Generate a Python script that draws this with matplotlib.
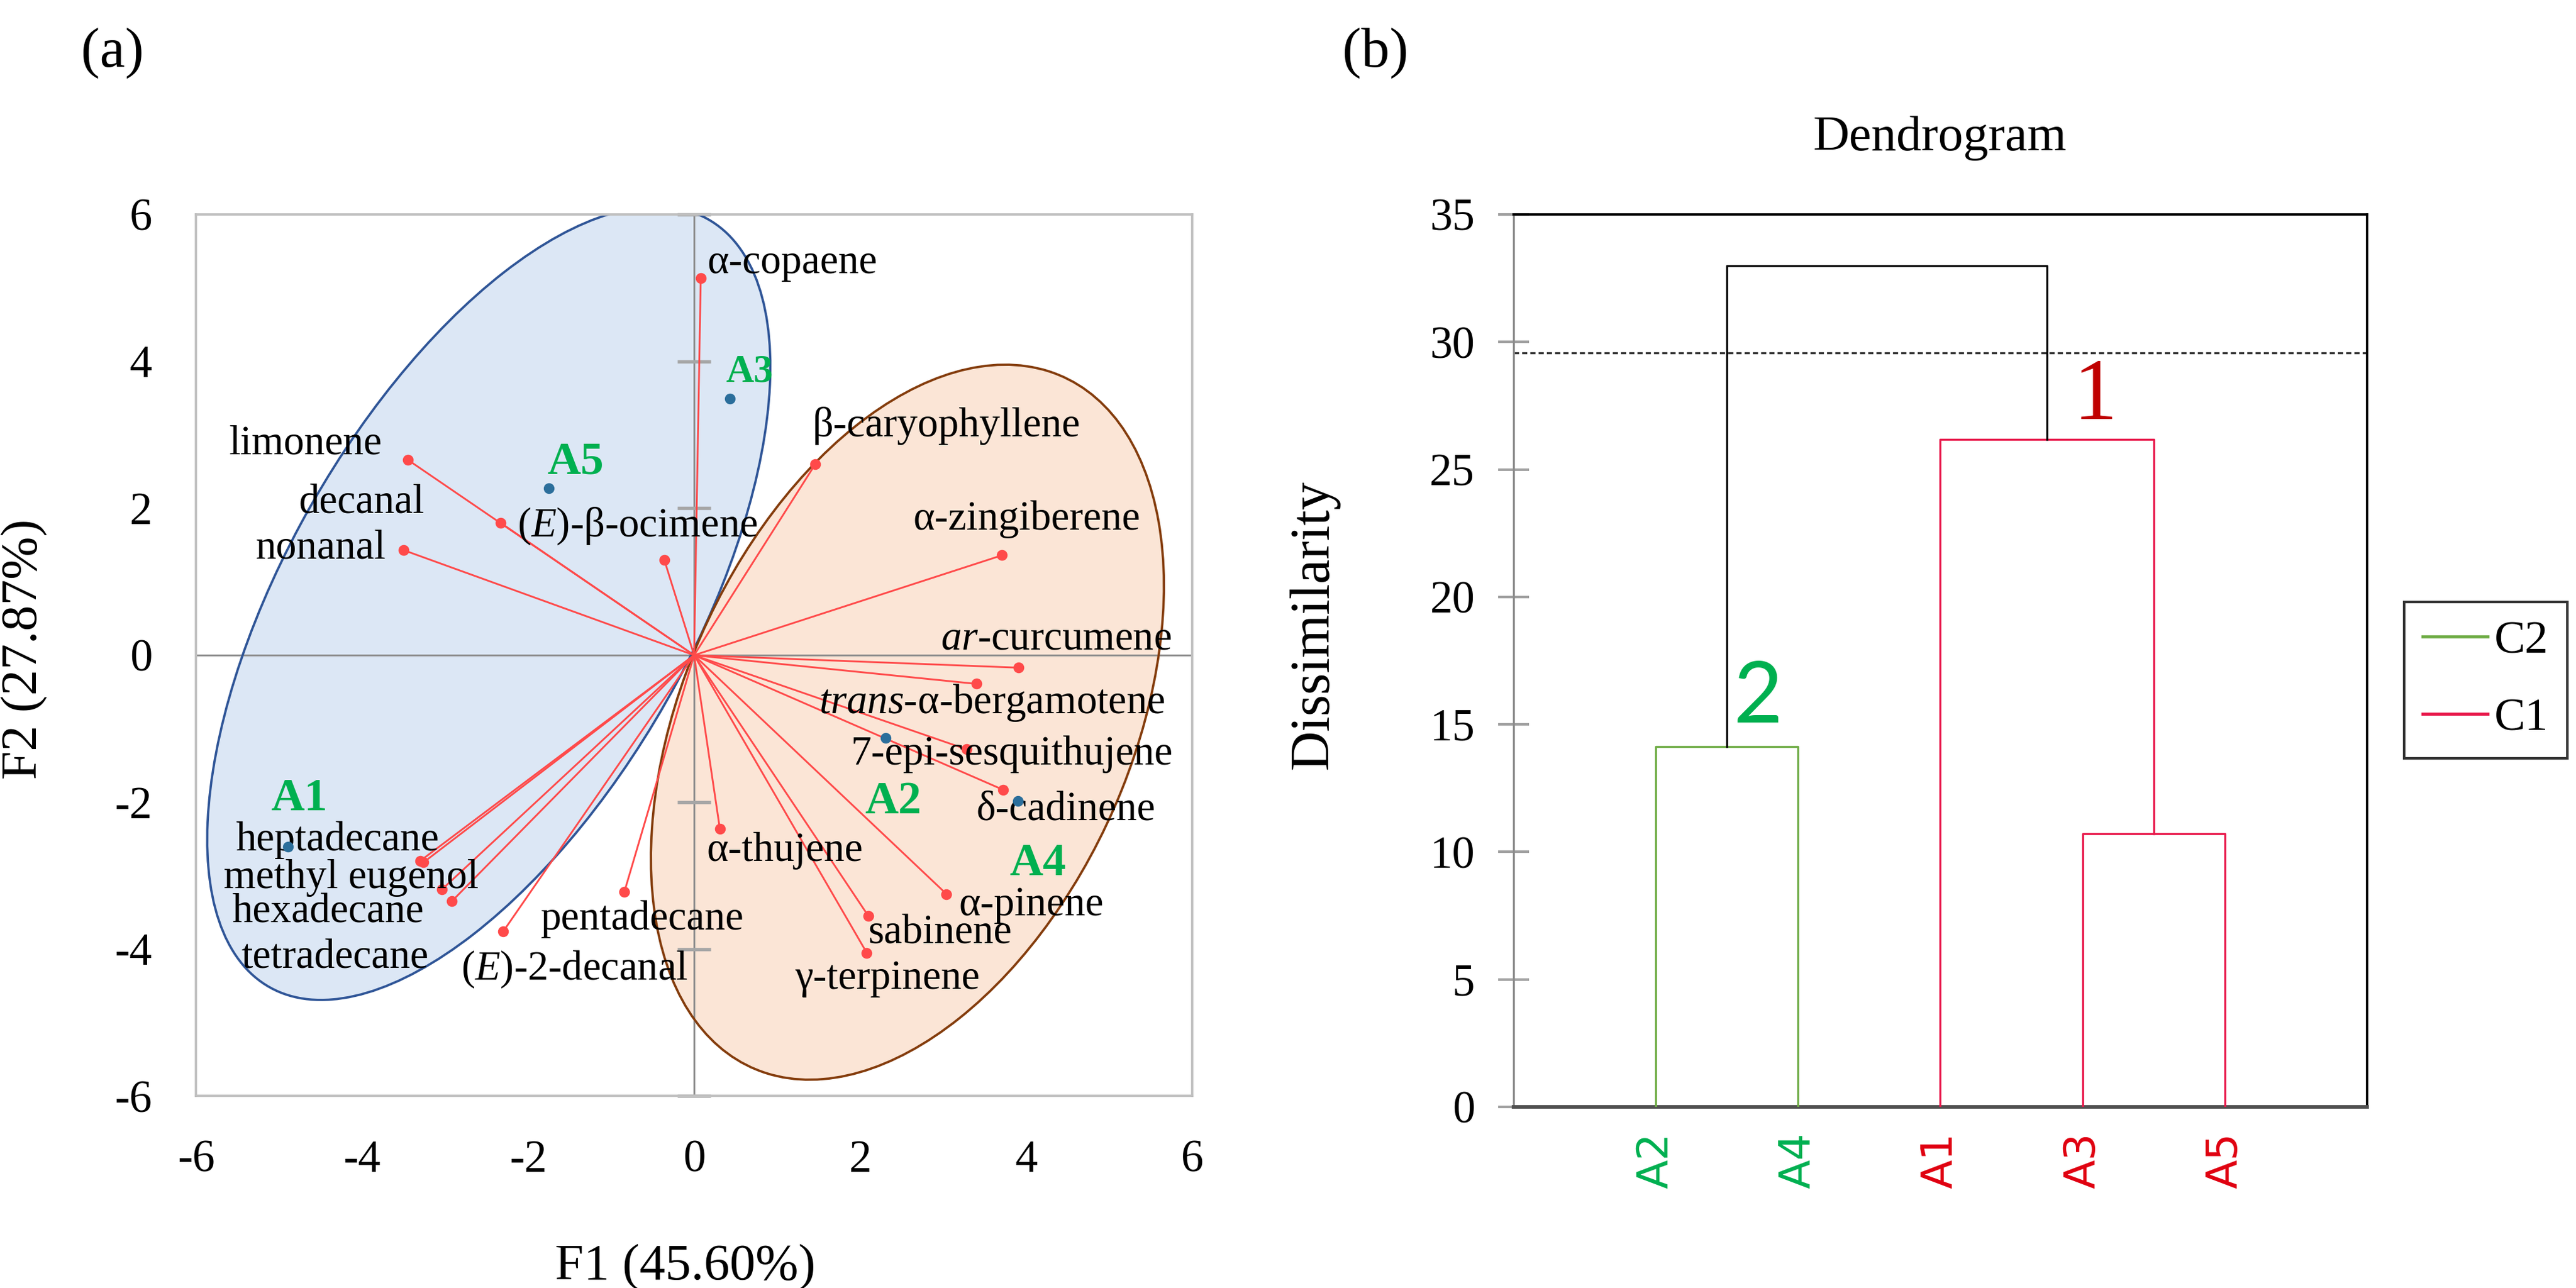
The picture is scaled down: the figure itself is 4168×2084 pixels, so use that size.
import numpy as np
import matplotlib
matplotlib.use('Agg')
import matplotlib.pyplot as plt
from matplotlib.patches import Ellipse
from matplotlib.lines import Line2D

plt.rcParams['font.family'] = ['Liberation Serif', 'DejaVu Serif']
plt.rcParams['mathtext.fontset'] = 'custom'
plt.rcParams['mathtext.rm'] = 'Liberation Serif'
plt.rcParams['mathtext.it'] = 'Liberation Serif:italic'
plt.rcParams['axes.unicode_minus'] = False

# ---- (a) PCA biplot data ----
compounds = ['α-copaene', 'limonene', 'decanal', 'nonanal', '($\\mathit{E}$)-β-ocimene',
             'β-caryophyllene', 'α-zingiberene', '$\\mathit{ar}$-curcumene',
             '$\\mathit{trans}$-α-bergamotene', '7-epi-sesquithujene', 'δ-cadinene',
             'α-thujene', 'α-pinene', 'sabinene', 'γ-terpinene', 'pentadecane',
             '($\\mathit{E}$)-2-decanal', 'heptadecane', 'methyl eugenol', 'hexadecane',
             'tetradecane']
load_f1 = [0.08, -3.45, -2.33, -3.50, -0.36, 1.46, 3.71, 3.91, 3.40, 3.28, 3.72,
           0.31, 3.04, 2.10, 2.08, -0.84, -2.30, -3.26, -3.04, -2.92, -3.30]
load_f2 = [5.13, 2.66, 1.80, 1.43, 1.30, 2.60, 1.36, -0.17, -0.39, -1.28, -1.83,
           -2.36, -3.25, -3.55, -4.05, -3.22, -3.76, -2.82, -3.19, -3.35, -2.80]

samples = ['A1', 'A2', 'A3', 'A4', 'A5']
obs_f1 = [-4.89, 2.31, 0.43, 3.90, -1.75]
obs_f2 = [-2.61, -1.13, 3.49, -1.98, 2.27]

# ellipse outlines (F1, F2)
blue_edge_f1 = [-0.33, 0.41, 0.82, 0.98, 0.93, 0.72, 0.41, 0.04, -0.17, -1.21, -2.15,
                -3.20, -4.56, -5.50, -5.86, -5.91, -5.70, -5.50, -5.39, -5.08, -4.56,
                -4.03, -3.51, -2.47, -1.42]
blue_edge_f2 = [5.95, 5.76, 5.12, 4.26, 3.40, 2.54, 1.46, 0.04, -0.34, -2.06, -3.35,
                -4.13, -4.68, -4.21, -3.35, -2.49, -1.20, -0.34, 0.00, 0.82, 2.11,
                3.18, 4.04, 5.12, 5.63]
orange_edge_f1 = [3.75, 2.97, 2.18, 1.51, 0.88, 0.36, 4.53, 5.06, 5.37, 5.58, 5.66,
                  5.63, 5.55, 5.32, 5.06, 4.79, 4.43, 4.01, 3.49, 2.97, 2.18, 1.40,
                  0.62, 0.10, -0.51, -0.43, -0.22, 0.14, 0.67, 1.35, -0.46, 0.04]
orange_edge_f2 = [3.95, 3.78, 3.40, 2.71, 1.89, 0.82, 3.74, 3.18, 2.54, 1.68, 0.82,
                  -0.04, -0.34, -1.42, -2.19, -2.71, -3.35, -4.00, -4.60, -5.07, -5.59,
                  -5.80, -5.63, -5.20, -3.14, -4.00, -4.56, -5.07, -5.54, -5.80, -2.06, 0.0]

# ---- (b) dendrogram data ----
leaves = ['A2', 'A4', 'A1', 'A3', 'A5']
# (child a, child b, dissimilarity); ids >= 5 are earlier merges
merges = [(0, 1, 14.13), (3, 4, 10.72), (2, 6, 26.18), (5, 7, 33.0)]
cut_level = 29.56
class_names = ['C2', 'C1']

# ---- styles / layout ----
GREEN_TXT = '#00B050'
RED_VEC = '#FF4A4A'
C2_COL = '#70AD47'
C1_COL = '#E8194B'
RED_TXT = '#E00010'

label_pos = {
    0: (1.18, 5.34), 1: (-4.68, 2.88), 2: (-4.0, 2.07), 3: (-4.50, 1.46),
    4: (-0.68, 1.76), 5: (3.04, 3.12), 6: (4.01, 1.85), 7: (4.36, 0.22),
    8: (3.59, -0.65), 9: (3.83, -1.35), 10: (4.48, -2.10), 11: (1.09, -2.66),
    12: (4.06, -3.40), 13: (2.96, -3.78), 14: (2.33, -4.40), 15: (-0.62, -3.59),
    16: (-1.44, -4.27), 17: (-4.30, -2.52), 18: (-4.13, -3.03), 19: (-4.41, -3.50),
    20: (-4.33, -4.12),
}
sample_pos = {'A1': (-4.76, -1.96), 'A2': (2.40, -2.00), 'A3': (0.67, 3.85),
              'A4': (4.14, -2.84), 'A5': (-1.43, 2.62)}
sample_size = {'A1': 18, 'A2': 18, 'A3': 15, 'A4': 18, 'A5': 18}


def ellipse_from_edge(ex, ey):
    ex, ey = np.asarray(ex, float), np.asarray(ey, float)
    mx, my = ex.mean(), ey.mean()
    x, y = ex - mx, ey - my
    A = np.column_stack([x * x, x * y, y * y, x, y])
    a, b, c, d, e = np.linalg.lstsq(A, np.ones_like(x), rcond=None)[0]
    M = np.array([[a, b / 2], [b / 2, c]])
    c0 = np.linalg.solve(2 * M, -np.array([d, e]))
    k = 1 + c0 @ M @ c0
    w, v = np.linalg.eigh(M / k)
    r = 1 / np.sqrt(w)
    ang = np.degrees(np.arctan2(v[1, 0], v[0, 0]))
    return (c0[0] + mx, c0[1] + my), 2 * r[0], 2 * r[1], ang


fig = plt.figure(figsize=(4168 / 300, 2084 / 300), dpi=300)

# ================= (a) =================
ax1 = fig.add_axes([0.0761, 0.149, 0.3867, 0.6846])
ax1.set_xlim(-6, 6)
ax1.set_ylim(-6, 6)

for ex, ey, fc, ec in [(blue_edge_f1, blue_edge_f2, '#DCE7F5', '#2F5597'),
                       (orange_edge_f1, orange_edge_f2, '#FBE5D6', '#843C0C')]:
    cen, w, h, ang = ellipse_from_edge(ex, ey)
    ax1.add_patch(Ellipse(cen, w, h, angle=ang, facecolor=fc, edgecolor='none', zorder=1))
    ax1.add_patch(Ellipse(cen, w, h, angle=ang, facecolor='none', edgecolor=ec,
                          lw=0.9, zorder=2.5))

ax1.axhline(0, color='#8C8C8C', lw=0.7, zorder=2)
ax1.axvline(0, color='#8C8C8C', lw=0.7, zorder=2)
for yv in range(-6, 7, 2):
    if yv != 0:
        ax1.plot([-0.2, 0.2], [yv, yv], color='#A6A6A6', lw=1.3, zorder=2,
                 solid_capstyle='butt', clip_on=False)

for i, name in enumerate(compounds):
    ax1.plot([0, load_f1[i]], [0, load_f2[i]], color=RED_VEC, lw=0.7, zorder=3)
    ax1.plot(load_f1[i], load_f2[i], 'o', color=RED_VEC, ms=3.2, zorder=3)
    tx, ty = label_pos[i]
    ax1.text(tx, ty, name, fontsize=16, ha='center', va='center', zorder=4)

ax1.scatter(obs_f1, obs_f2, s=10, color='#2B6E9B', zorder=4)
for s in samples:
    tx, ty = sample_pos[s]
    ax1.text(tx, ty, s, color=GREEN_TXT, fontsize=sample_size[s], fontweight='bold',
             ha='center', va='center', zorder=4)

ax1.set_xticks(range(-6, 7, 2))
ax1.set_yticks(range(-6, 7, 2))
ax1.tick_params(length=0, labelsize=17.5)
ax1.tick_params(axis='x', pad=17)
ax1.tick_params(axis='y', pad=17)
for sp in ax1.spines.values():
    sp.set_color('#C0C0C0')
    sp.set_linewidth(0.9)
ax1.set_xlabel('F1 (45.60%)', fontsize=20)
ax1.set_ylabel('F2 (27.87%)', fontsize=20)
ax1.xaxis.set_label_coords(0.491, -0.1675)
ax1.yaxis.set_label_coords(-0.149, 0.507)

# ================= (b) =================
ax2 = fig.add_axes([0.5875, 0.1406, 0.3314, 0.6929])
ax2.set_xlim(0, 6)
ax2.set_ylim(0, 35)

n = len(leaves)
pos = {i: i + 1 for i in range(n)}
hgt = {i: 0.0 for i in range(n)}
members = {i: [i] for i in range(n)}
green_set = {0, 1}
for k, (a, b, h) in enumerate(merges):
    node = n + k
    members[node] = members[a] + members[b]
    if set(members[node]) <= green_set:
        col = C2_COL
    elif not (set(members[node]) & green_set):
        col = C1_COL
    else:
        col = 'black'
    ax2.plot([pos[a], pos[a], pos[b], pos[b]], [hgt[a], h, h, hgt[b]],
             color=col, lw=0.8, zorder=3)
    pos[node] = (pos[a] + pos[b]) / 2
    hgt[node] = h

ax2.axhline(cut_level, color='#333333', lw=0.8, ls=(0, (2.5, 1.5)), zorder=2)

ax2.text(1.72, 16.0, '2', color=GREEN_TXT, fontsize=33, family=['Lato', 'DejaVu Sans'],
         ha='center', va='center')
ax2.text(4.09, 27.8, '1', color='#C00000', fontsize=34, ha='center', va='center')

ax2.set_yticks(range(0, 36, 5))
ax2.tick_params(axis='y', direction='inout', length=12, width=1.0, color='#A0A0A0',
                labelsize=17.5, pad=9)
ax2.set_xticks(range(1, n + 1))
ax2.set_xticklabels(leaves, rotation=90, fontsize=16.5, family=['DejaVu Sans'])
ax2.tick_params(axis='x', length=0, pad=10)
for lab, idx in zip(ax2.get_xticklabels(), range(n)):
    lab.set_color(GREEN_TXT if idx in green_set else RED_TXT)

ax2.spines['left'].set_color('#8C8C8C')
ax2.spines['left'].set_linewidth(0.8)
ax2.spines['bottom'].set_color('#505050')
ax2.spines['bottom'].set_linewidth(1.4)
ax2.spines['top'].set_color('black')
ax2.spines['top'].set_linewidth(0.9)
ax2.spines['right'].set_color('black')
ax2.spines['right'].set_linewidth(0.9)

ax2.set_ylabel('Dissimilarity', fontsize=21.5)
ax2.yaxis.set_label_coords(-0.204, 0.54)
ax2.set_title('Dendrogram', fontsize=19.5, y=1.055)

handles = [Line2D([], [], color=C2_COL, lw=1.2), Line2D([], [], color=C1_COL, lw=1.2)]
leg = fig.legend(handles, class_names, loc='upper left', bbox_to_anchor=(0.9333, 0.5326),
                 bbox_transform=fig.transFigure, fontsize=18, frameon=True, fancybox=False,
                 edgecolor='black', borderaxespad=0, handlelength=1.4, handletextpad=0.15,
                 labelspacing=0.75, borderpad=0.4)
leg.get_frame().set_linewidth(1.0)

fig.text(0.0437, 0.959, '(a)', fontsize=22, ha='center', va='center')
fig.text(0.534, 0.959, '(b)', fontsize=22, ha='center', va='center')

fig.savefig('out.png', dpi=300)
